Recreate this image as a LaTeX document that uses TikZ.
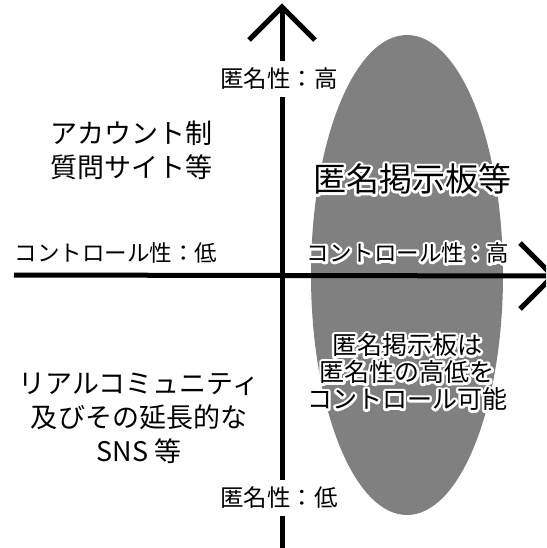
\documentclass[tikz,border=0pt]{standalone}
\usepackage{fontspec}
\setmainfont{Noto Sans CJK JP}
\tikzset{
  axis/.style={line width=5pt, black},
  chevron/.style={line width=5pt, black, line join=miter},
  axlbl/.style={font=\fontsize{23.5}{26}\selectfont, fill=white, inner xsep=1pt, inner ysep=7pt},
  quad/.style={font=\fontsize{27}{34}\selectfont, align=center, inner sep=0pt},
  big/.style={font=\fontsize{33}{38}\selectfont, align=center, inner sep=0pt},
  ctl/.style={font=\fontsize{22.5}{26}\selectfont, align=center, inner sep=0pt},
  note/.style={font=\fontsize{25}{27}\selectfont, align=center, inner sep=0pt},
}
\newcommand{\strokeon}{\special{pdf:literal direct 2 Tr 1 1 1 RG 1 1 1 rg 5 w 1 j 1 J}}
\newcommand{\strokeoff}{\special{pdf:literal direct 0 Tr}}
\newcommand{\halonode}[4]{%
  \node[#3,text=white] at (#2) {\strokeon #4\strokeoff};
  \node[#3] (#1) at (#2) {#4};}
\begin{document}
\begin{tikzpicture}[x=1pt,y=-1pt]
\useasboundingbox (0,0) rectangle (546,548);
\clip (0,0) rectangle (546,548);
% ellipse
\fill[fill={rgb,255:red,128;green,128;blue,128}] (407,275) ellipse [x radius=96, y radius=240];
% axes
\coordinate (vtop) at (282,7);
\coordinate (vbot) at (282,550);
\coordinate (hleft) at (14,275);
\coordinate (hright) at (553,276);
\coordinate (ua1) at (249,40);
\coordinate (ua2) at (315,40);
\coordinate (ra1) at (520,243);
\coordinate (ra2) at (520,309);
\draw[axis] (vbot) -- (vtop);
\draw[axis] (hleft) -- (hright);
\draw[chevron] (ua1) -- (vtop) -- (ua2);
\draw[chevron] (ra1) -- (hright) -- (ra2);
% axis labels
\node[axlbl] (anonHi) at (279,79) {匿名性：高};
\node[axlbl] (anonLo) at (279,498) {匿名性：低};
\node[ctl] (ctlLo) at (116,253) {コントロール性：低};
\halonode{ctlHi}{408,253}{ctl}{コントロール性：高}
% quadrant texts
\node[quad] (acct) at (131,150) {アカウント制\\質問サイト等};
\node[quad] (real) at (139,418) {リアルコミュニティ\\及びその延長的な\\SNS 等};
\halonode{bbs}{412,179}{big}{匿名掲示板等}
\halonode{bbsnote}{407,372}{note}{匿名掲示板は\\匿名性の高低を\\コントロール可能}
\end{tikzpicture}
\end{document}
